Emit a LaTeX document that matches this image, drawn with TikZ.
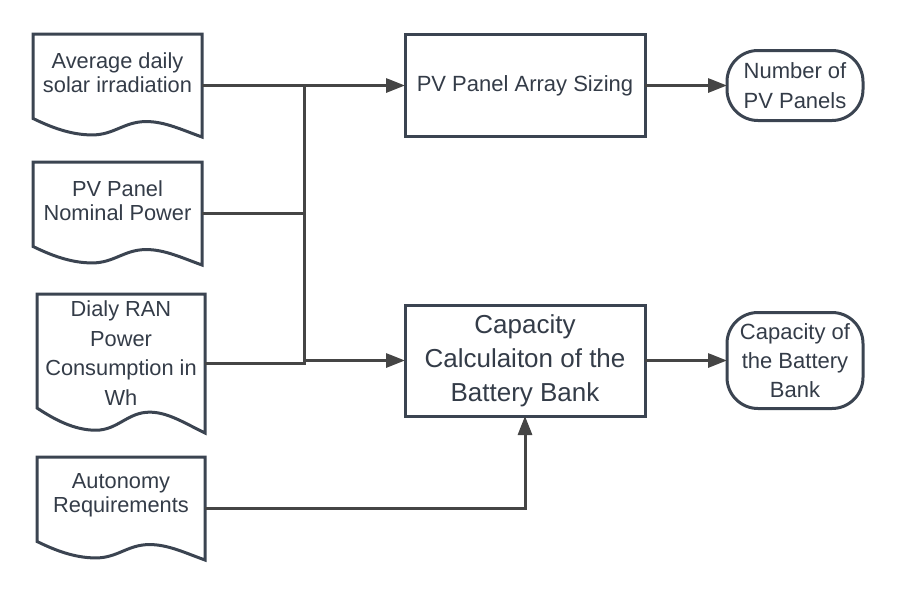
\documentclass[tikz,border=0pt]{standalone}
\usepackage{fontspec}
\setmainfont{Liberation Sans}
\usetikzlibrary{arrows.meta,calc}

\definecolor{c3b4451}{RGB}{59,68,81}
\definecolor{c454545}{RGB}{69,69,69}
\definecolor{c343c48}{RGB}{52,60,72}

\tikzset{
  docbox/.style={minimum width=168pt, minimum height=103pt},
  doctext/.style={align=center, text=c343c48, font=\fontsize{21.8}{24}\selectfont},
  procbox/.style={draw=c3b4451, line width=3pt, fill=white, minimum width=240pt,
    align=center, text=c343c48},
  endbox/.style={draw=c3b4451, line width=3pt, fill=white, rounded corners=31pt,
    minimum width=136pt, align=center, text=c343c48},
  wire/.style={draw=c454545, line width=3pt},
  flow/.style={wire, -{Triangle[length=19pt,width=14pt]}},
}

% document symbol: flat top, wavy bottom
\newcommand{\docframe}[1]{%
  \path[draw=c3b4451, line width=3pt, fill=white, line join=miter]
    let \p1=(#1.north west), \p2=(#1.south east), \n1={\x2-\x1}, \n2={\y1-\y2} in
    (\x1,{\y2+0.18*\n2}) -- (\x1,\y1) -- (\x2,\y1) -- (\x2,\y2)
    .. controls ({\x1+0.88*\n1},{\y2+0.07*\n2}) and ({\x1+0.78*\n1},{\y2+0.15*\n2}) ..
    ({\x1+0.67*\n1},{\y2+0.15*\n2})
    .. controls ({\x1+0.54*\n1},{\y2+0.15*\n2}) and ({\x1+0.48*\n1},{\y2+0.02*\n2}) ..
    ({\x1+0.35*\n1},{\y2+0.02*\n2})
    .. controls ({\x1+0.22*\n1},{\y2+0.02*\n2}) and ({\x1+0.1*\n1},{\y2+0.1*\n2}) ..
    (\x1,{\y2+0.18*\n2}) -- cycle;}

\begin{document}
\begin{tikzpicture}[x=1pt, y=-1pt, inner sep=0pt, outer sep=0pt]
  \useasboundingbox (0,0) rectangle (898,592);

  % inputs
  \node[docbox, minimum width=169pt] (irrad) at (117.5,85.5) {};
  \docframe{irrad}
  \node[doctext] (irradtxt) at (117.5,73) {Average daily\\solar irradiation};

  \node[docbox, minimum width=169pt] (nompow) at (117.5,213.5) {};
  \docframe{nompow}
  \node[doctext] (nompowtxt) at (117.5,200.5) {PV Panel\\Nominal Power};

  \node[docbox, minimum height=139pt] (ranpow) at (121,363.5) {};
  \docframe{ranpow}
  \node[doctext, font=\fontsize{21.8}{29.5}\selectfont] (ranpowtxt) at (121,353)
    {Dialy RAN\\Power\\Consumption in\\Wh};

  \node[docbox] (autonomy) at (121,508.5) {};
  \docframe{autonomy}
  \node[doctext] (autonomytxt) at (121,495) {Autonomy\\Requirements};

  % processes
  \node[procbox, minimum height=102pt, font=\fontsize{22}{26}\selectfont] (arraysize)
    at (525,85.5) {PV Panel Array Sizing};
  \node[procbox, minimum height=111pt, font=\fontsize{26}{34}\selectfont] (battcalc)
    at (525,360.5) {Capacity\\Calculaiton of the\\Battery Bank};

  % results
  \node[endbox, minimum height=70pt, font=\fontsize{22}{30}\selectfont] (npanels)
    at (795,85.5) {Number of\\PV Panels};
  \node[endbox, minimum height=96pt, font=\fontsize{22}{29}\selectfont] (battcap)
    at (795,360.5) {Capacity of\\the Battery\\Bank};

  % connectors
  \coordinate (bus) at (304,85.5);
  \draw[flow] (irrad.east) -- (irrad.east -| arraysize.west);
  \draw[wire] (nompow.east) -- (nompow.east -| bus);
  \draw[wire] (ranpow.east) -| (bus);
  \draw[flow] (battcalc.west -| bus) -- (battcalc.west);
  \draw[flow] (autonomy.east) -| (battcalc.south);
  \draw[flow] (arraysize.east) -- (npanels.west);
  \draw[flow] (battcalc.east) -- (battcap.west);
\end{tikzpicture}
\end{document}
